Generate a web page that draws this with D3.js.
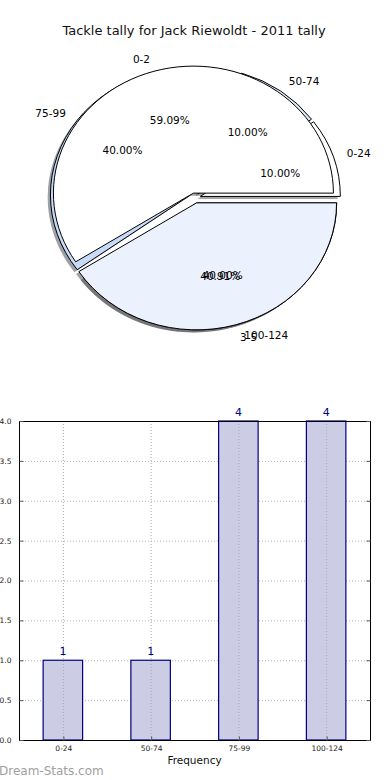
<!DOCTYPE html>
<html>
<head>
<meta charset="utf-8">
<script src="https://cdnjs.cloudflare.com/ajax/libs/d3/7.8.5/d3.min.js"></script>
<style>
  body { margin: 0; background: #fff; }
  text { font-family: "DejaVu Sans", sans-serif; }
</style>
</head>
<body>
<svg width="390" height="780"></svg>
<script>
// tackle tally (bar chart + first pie)
const tallyCats = ['0-24', '50-74', '75-99', '100-124'];
const tallyVals = [1, 1, 4, 4];
// second pie drawn on the same axes
const splitCats = ['0-2', '3-5'];
const splitVals = [13, 9];
const yTickVals = [0, 0.5, 1, 1.5, 2, 2.5, 3, 3.5, 4];
const yTickLabels = ['0.0', '0.5', '1.0', '1.5', '2.0', '2.5', '3.0', '3.5', '4.0'];

const svg = d3.select('svg');

svg.append('text')
  .attr('x', 194).attr('y', 35)
  .attr('text-anchor', 'middle')
  .attr('font-size', 13).attr('fill', '#111')
  .text('Tackle tally for Jack Riewoldt - 2011 tally');

// ---------- pies ----------
const cx = 195, cy = 198, rx = 140, ry = 127;
const explode = 0.04;

const pie = d3.pie().sort(null)
  .startAngle(Math.PI / 2)
  .endAngle(Math.PI / 2 - 2 * Math.PI);
const arc = d3.arc().innerRadius(0).outerRadius(1);

function layout(cats, vals, colors) {
  const total = d3.sum(vals);
  return pie(vals).map((d, i) => {
    const mid = (d.startAngle + d.endAngle) / 2;
    const ux = Math.sin(mid), uy = -Math.cos(mid);
    return {
      arc: d,
      cat: cats[i],
      pct: (100 * vals[i] / total).toFixed(2) + '%',
      color: colors[i],
      ux: ux, uy: uy,
      ox: cx + explode * rx * ux,
      oy: cy + explode * ry * uy
    };
  });
}

const pieA = layout(tallyCats, tallyVals, ['#ffffff', '#dde7f8', '#c8daf8', '#ffffff']);
const pieB = layout(splitCats, splitVals, ['#ffffff', '#ebf1fd']);
const allWedges = pieA.concat(pieB);

const pieG = svg.append('g');

// shadows first, under every wedge
pieG.selectAll('path.shadow').data(allWedges).enter()
  .append('path')
  .attr('class', 'shadow')
  .attr('transform', d => `translate(${d.ox - 0.02 * rx},${d.oy + 0.02 * ry}) scale(${rx},${ry})`)
  .attr('d', d => arc(d.arc))
  .attr('fill', d => {
    const c = d3.rgb(d.color);
    return d3.rgb(c.r * 0.3, c.g * 0.3, c.b * 0.3);
  })
  .attr('fill-opacity', 0.5);

pieG.selectAll('path.wedge').data(allWedges).enter()
  .append('path')
  .attr('class', 'wedge')
  .attr('transform', d => `translate(${d.ox},${d.oy}) scale(${rx},${ry})`)
  .attr('d', d => arc(d.arc))
  .attr('fill', d => d.color)
  .attr('stroke', '#000')
  .attr('stroke-width', 1)
  .attr('vector-effect', 'non-scaling-stroke');

// category labels at 1.1 r
pieG.selectAll('text.lab').data(allWedges).enter()
  .append('text')
  .attr('class', 'lab')
  .attr('x', d => d.ox + 1.1 * rx * d.ux)
  .attr('y', d => d.oy + 1.1 * ry * d.uy)
  .attr('dy', '0.35em')
  .attr('text-anchor', d => d.ux > 0 ? 'start' : 'end')
  .attr('font-size', 10.5).attr('fill', '#000')
  .text(d => d.cat);

// percentages at 0.6 r
pieG.selectAll('text.pct').data(allWedges).enter()
  .append('text')
  .attr('class', 'pct')
  .attr('x', d => d.ox + 0.6 * rx * d.ux)
  .attr('y', d => d.oy + 0.6 * ry * d.uy)
  .attr('dy', '0.35em')
  .attr('text-anchor', 'middle')
  .attr('font-size', 10.5).attr('fill', '#000')
  .text(d => d.pct);

// ---------- bar chart ----------
const plotL = 19, plotR = 370, plotT = 421, plotB = 740;

const x = d3.scaleBand().domain(tallyCats).range([plotL, plotR])
  .paddingInner(0.55).paddingOuter(0.275);
const y = d3.scaleLinear().domain([0, 4]).range([plotB, plotT]);

const bars = svg.append('g');

// horizontal grid (behind bars)
bars.selectAll('line.hgrid').data(yTickVals).enter()
  .append('line')
  .attr('x1', plotL).attr('x2', plotR)
  .attr('y1', d => y(d) + 0.5).attr('y2', d => y(d) + 0.5)
  .attr('stroke', '#b4b4b4').attr('stroke-dasharray', '1,2');

bars.selectAll('rect.bar').data(tallyVals).enter()
  .append('rect')
  .attr('x', (d, i) => x(tallyCats[i]))
  .attr('y', d => y(d))
  .attr('width', x.bandwidth())
  .attr('height', d => plotB - y(d))
  .attr('fill', '#ccccE5')
  .attr('stroke', '#000080')
  .attr('stroke-width', 1.2);

// vertical grid (over bars)
bars.selectAll('line.vgrid').data(tallyCats).enter()
  .append('line')
  .attr('x1', d => x(d) + x.bandwidth() / 2 + 0.5)
  .attr('x2', d => x(d) + x.bandwidth() / 2 + 0.5)
  .attr('y1', plotT).attr('y2', plotB)
  .attr('stroke', '#aaaaaa').attr('stroke-dasharray', '1,2');

// value labels
bars.selectAll('text.val').data(tallyVals).enter()
  .append('text')
  .attr('x', (d, i) => x(tallyCats[i]) + x.bandwidth() / 2)
  .attr('y', d => y(d) - 5)
  .attr('text-anchor', 'middle')
  .attr('font-size', 11).attr('fill', '#000080')
  .text(d => d);

// frame
bars.append('rect')
  .attr('x', plotL + 0.5).attr('y', plotT + 0.5)
  .attr('width', plotR - plotL).attr('height', plotB - plotT)
  .attr('fill', 'none').attr('stroke', '#000').attr('stroke-width', 1);

// axes with inward ticks
const yAxis = d3.axisLeft(y).tickValues(yTickVals)
  .tickFormat((d, i) => yTickLabels[i]).tickSizeInner(-4).tickSizeOuter(0).tickPadding(8);
const yg = bars.append('g').attr('transform', `translate(${plotL + 0.5},0)`).call(yAxis);
yg.select('.domain').remove();
yg.selectAll('line').attr('stroke', '#555');
yg.selectAll('text').attr('font-size', 7.5).attr('fill', '#222').attr('font-family', '"DejaVu Sans", sans-serif');

const yAxisR = d3.axisRight(y).tickValues(yTickVals).tickFormat('').tickSizeInner(-4).tickSizeOuter(0);
const yr = bars.append('g').attr('transform', `translate(${plotR + 0.5},0)`).call(yAxisR);
yr.select('.domain').remove();
yr.selectAll('line').attr('stroke', '#555');

const xc = d3.scalePoint().domain(tallyCats)
  .range([x(tallyCats[0]) + x.bandwidth() / 2, x(tallyCats[3]) + x.bandwidth() / 2]);
const xAxis = d3.axisBottom(xc).tickSizeInner(-4).tickSizeOuter(0).tickPadding(5);
const xg = bars.append('g').attr('transform', `translate(0.5,${plotB + 0.5})`).call(xAxis);
xg.select('.domain').remove();
xg.selectAll('line').attr('stroke', '#555');
xg.selectAll('text').attr('font-size', 7.5).attr('fill', '#222').attr('font-family', '"DejaVu Sans", sans-serif');

svg.append('text')
  .attr('x', (plotL + plotR) / 2).attr('y', 764)
  .attr('text-anchor', 'middle')
  .attr('font-size', 10.5).attr('fill', '#111')
  .text('Frequency');

svg.append('text')
  .attr('x', -1).attr('y', 775)
  .attr('font-size', 12).attr('fill', '#a0a0a0')
  .text('Dream-Stats.com');
</script>
</body>
</html>
